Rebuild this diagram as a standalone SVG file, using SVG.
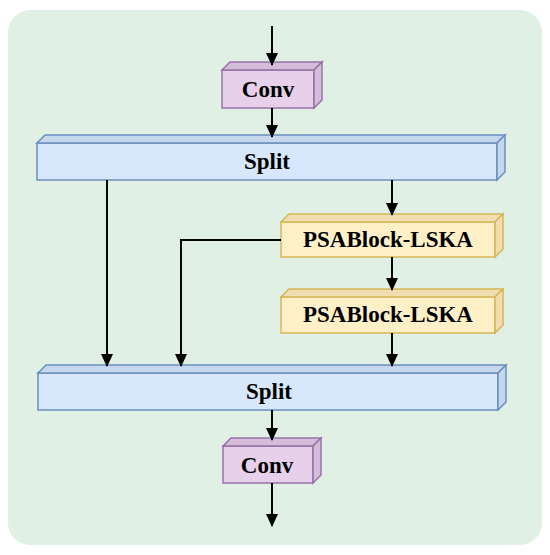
<svg xmlns="http://www.w3.org/2000/svg" width="550" height="555" viewBox="0 0 550 555">
<defs>
<marker id="ah" markerWidth="13" markerHeight="12" refX="12" refY="6" orient="auto" markerUnits="userSpaceOnUse">
<path d="M0,0 L13,6 L0,12 Z" fill="#000"/>
</marker>
<style>
text{font-family:"Liberation Serif","Times New Roman",serif;font-weight:bold;font-size:23px;text-anchor:middle;fill:#000}
.conv .f{fill:#e6d0ea;stroke:#9673a6;stroke-width:1.5}
.conv .s{fill:#d5bcda;stroke:#9673a6;stroke-width:1.5}
.split .f{fill:#d7e8fc;stroke:#6c8ebf;stroke-width:1.5}
.split .s{fill:#c4d7ef;stroke:#6c8ebf;stroke-width:1.5}
.psa .f{fill:#fff0c8;stroke:#d6b656;stroke-width:1.5}
.psa .s{fill:#f1deb0;stroke:#d6b656;stroke-width:1.5}
.c{fill:none;stroke:#000;stroke-width:2}
</style>
</defs>
<rect x="8" y="10" width="534" height="535" rx="22" fill="#e1f0e4"/>
<g id="conv1" class="conv">
<rect class="f" x="222" y="70" width="92" height="38"/>
<path class="s" d="M222,70 L230,62 L322,62 L314,70 Z"/>
<path class="s" d="M314,70 L322,62 L322,100 L314,108 Z"/>
<text x="268" y="97">Conv</text>
</g>
<g id="split1" class="split">
<rect class="f" x="37" y="143" width="460" height="37"/>
<path class="s" d="M37,143 L45,135 L505,135 L497,143 Z"/>
<path class="s" d="M497,143 L505,135 L505,172 L497,180 Z"/>
<text x="267" y="169">Split</text>
</g>
<g id="psa1" class="psa">
<rect class="f" x="281" y="222" width="214" height="35"/>
<path class="s" d="M281,222 L289,214 L503,214 L495,222 Z"/>
<path class="s" d="M495,222 L503,214 L503,249 L495,257 Z"/>
<text x="388" y="247">PSABlock-LSKA</text>
</g>
<g id="psa2" class="psa">
<rect class="f" x="281" y="297" width="214" height="36"/>
<path class="s" d="M281,297 L289,289 L503,289 L495,297 Z"/>
<path class="s" d="M495,297 L503,289 L503,325 L495,333 Z"/>
<text x="388" y="322">PSABlock-LSKA</text>
</g>
<g id="split2" class="split">
<rect class="f" x="38" y="373" width="460" height="37"/>
<path class="s" d="M38,373 L46,365 L506,365 L498,373 Z"/>
<path class="s" d="M498,373 L506,365 L506,402 L498,410 Z"/>
<text x="269" y="399">Split</text>
</g>
<g id="conv2" class="conv">
<rect class="f" x="223" y="446" width="90" height="37"/>
<path class="s" d="M223,446 L231,438 L321,438 L313,446 Z"/>
<path class="s" d="M313,446 L321,438 L321,475 L313,483 Z"/>
<text x="267" y="473">Conv</text>
</g>
<g id="connectors">
<path class="c" d="M272,26 L272,65" marker-end="url(#ah)"/>
<path class="c" d="M272,108 L272,137" marker-end="url(#ah)"/>
<path class="c" d="M107,180 L107,366" marker-end="url(#ah)"/>
<path class="c" d="M392,180 L392,215" marker-end="url(#ah)"/>
<path class="c" d="M281,240 L181,240 L181,366" marker-end="url(#ah)"/>
<path class="c" d="M392,257 L392,290" marker-end="url(#ah)"/>
<path class="c" d="M392,333 L392,366" marker-end="url(#ah)"/>
<path class="c" d="M272,410 L272,440" marker-end="url(#ah)"/>
<path class="c" d="M272,483 L272,526" marker-end="url(#ah)"/>
</g>
</svg>
